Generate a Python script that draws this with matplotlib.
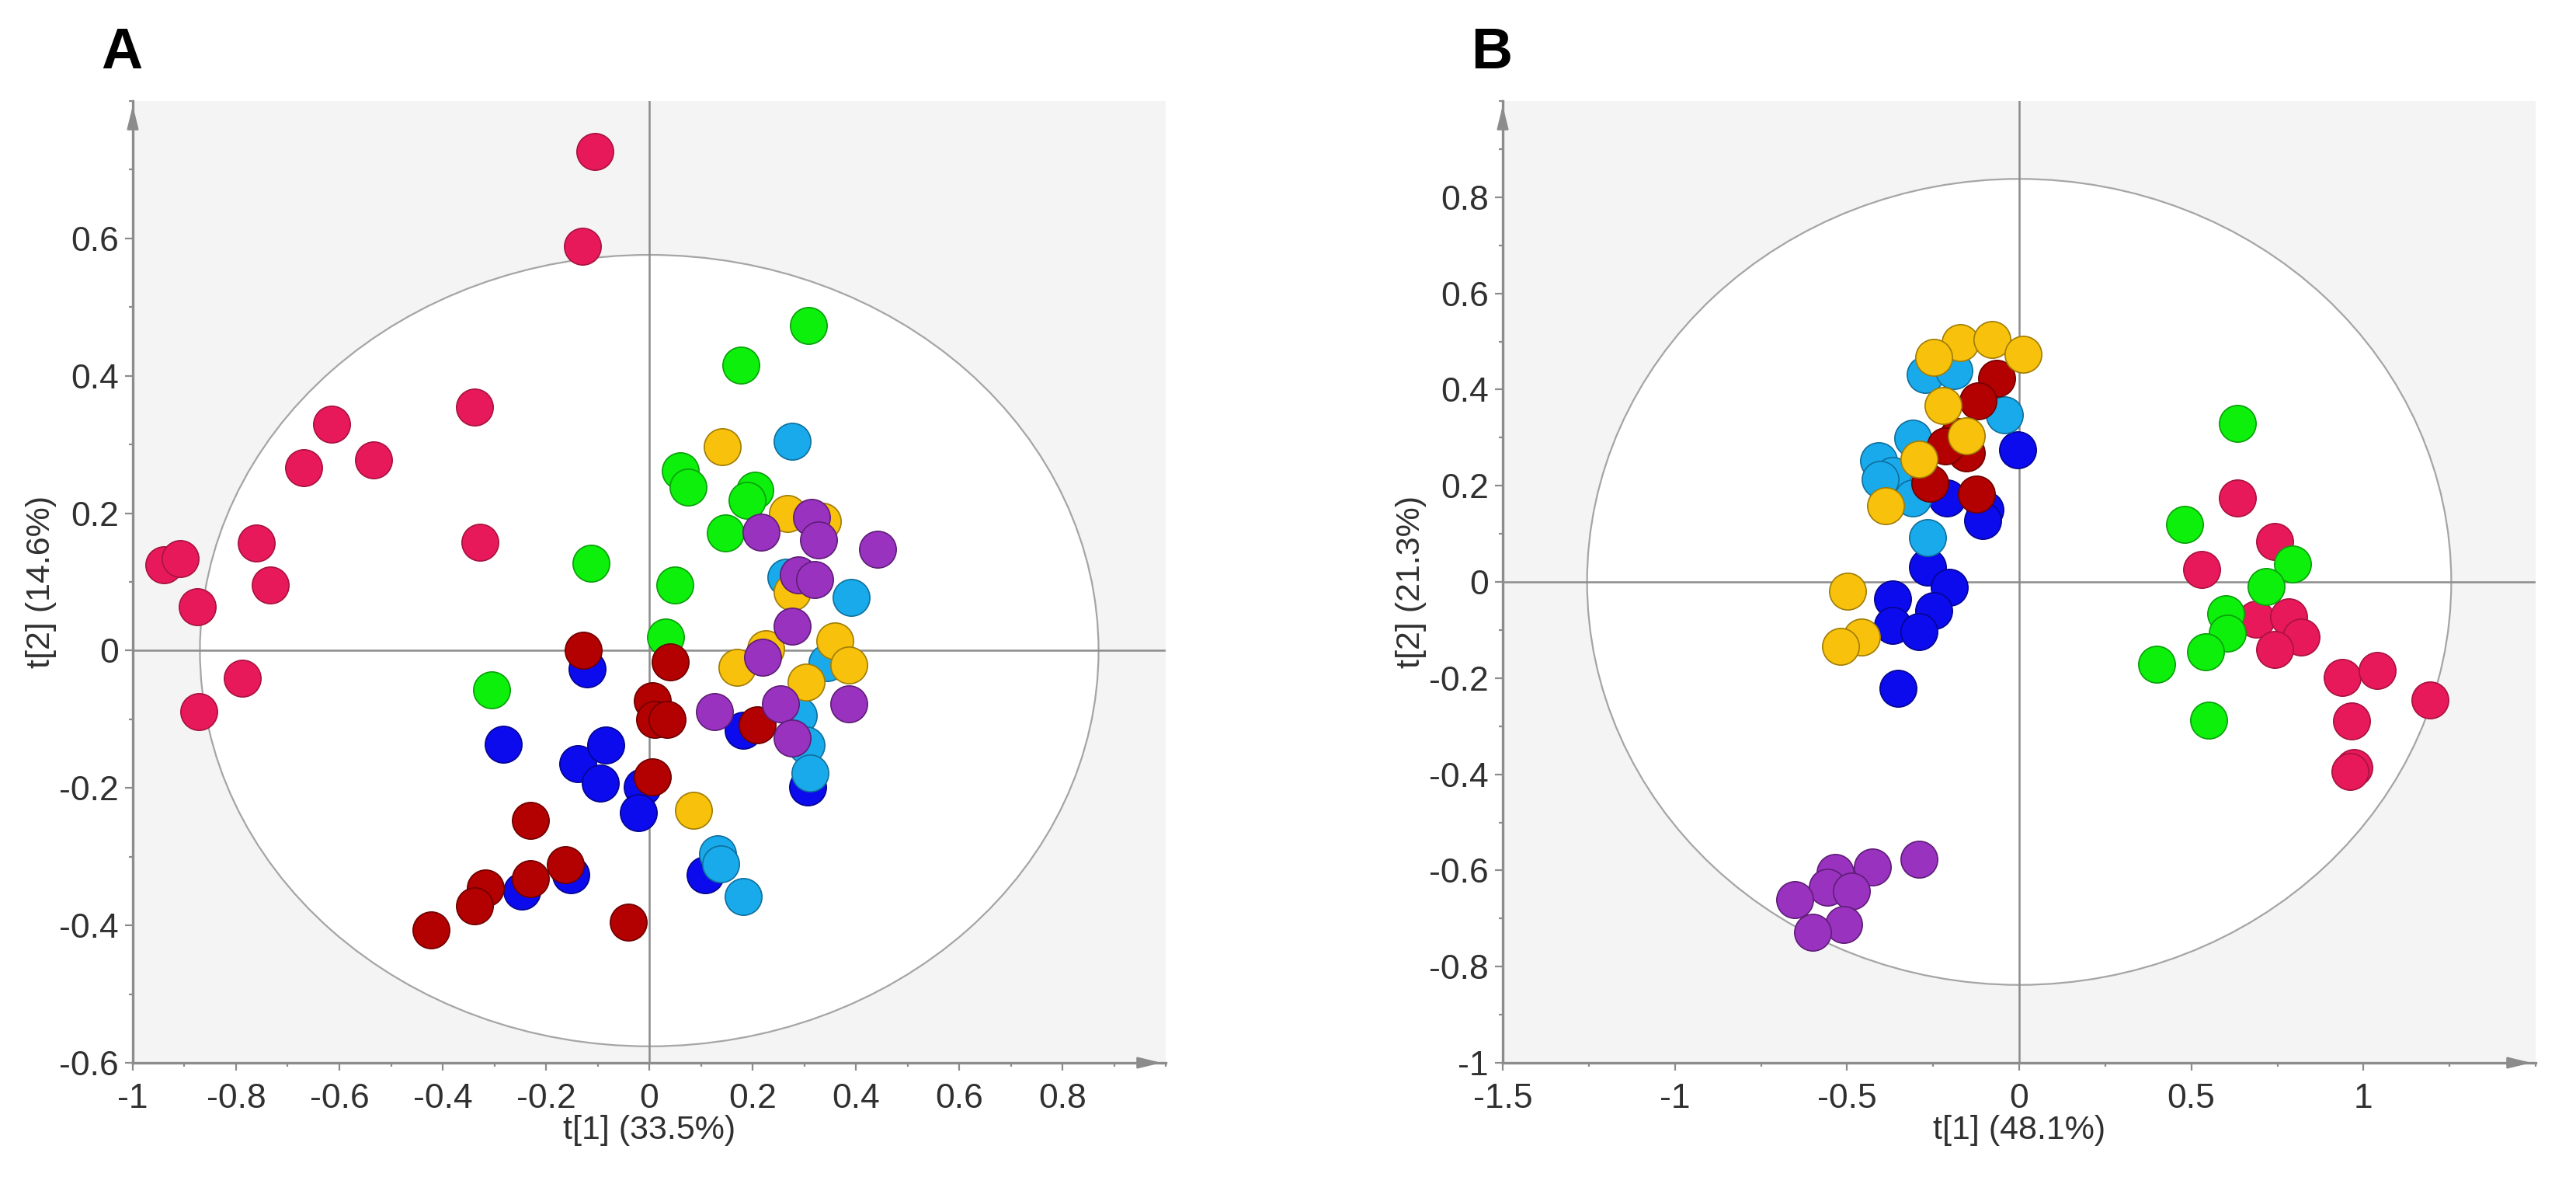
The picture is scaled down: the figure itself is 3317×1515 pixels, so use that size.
import matplotlib
matplotlib.use("Agg")
import matplotlib.pyplot as plt
from matplotlib.patches import Ellipse
from matplotlib.ticker import MultipleLocator, FuncFormatter

plt.rcParams['font.family'] = ['Liberation Sans', 'DejaVu Sans']

# panel A scores (t[1], t[2]) per group
a_pink_x = [-0.105, -0.13, -0.338, -0.615, -0.534, -0.669, -0.328, -0.761, -0.734, -0.94, -0.908, -0.875, -0.788, -0.872]
a_pink_y = [0.727, 0.589, 0.354, 0.33, 0.277, 0.266, 0.158, 0.156, 0.096, 0.125, 0.134, 0.064, -0.04, -0.089]
a_green_x = [0.309, 0.177, 0.06, 0.075, 0.204, 0.189, 0.147, -0.113, 0.049, 0.032, -0.306]
a_green_y = [0.473, 0.415, 0.262, 0.238, 0.234, 0.219, 0.171, 0.127, 0.096, 0.02, -0.057]
a_gold_x = [0.141, 0.268, 0.336, 0.277, 0.225, 0.36, 0.387, 0.17, 0.304, 0.086]
a_gold_y = [0.297, 0.199, 0.188, 0.085, 0.003, 0.014, -0.021, -0.024, -0.046, -0.233]
a_lblue_x = [0.276, 0.265, 0.391, 0.344, 0.288, 0.304, 0.312, 0.132, 0.138, 0.182]
a_lblue_y = [0.305, 0.107, 0.077, -0.018, -0.095, -0.138, -0.178, -0.296, -0.31, -0.358]
a_blue_x = [-0.12, -0.282, -0.138, -0.084, -0.095, -0.013, -0.021, 0.182, 0.307, 0.109, -0.247, -0.152]
a_blue_y = [-0.027, -0.136, -0.165, -0.138, -0.193, -0.198, -0.236, -0.116, -0.198, -0.326, -0.35, -0.326]
a_dred_x = [-0.128, 0.04, 0.006, 0.011, 0.035, 0.006, -0.23, 0.209, -0.163, -0.23, -0.318, -0.338, -0.422, -0.04]
a_dred_y = [0.0, -0.016, -0.073, -0.1, -0.1, -0.184, -0.247, -0.108, -0.312, -0.332, -0.345, -0.372, -0.407, -0.395]
a_purple_x = [0.217, 0.315, 0.328, 0.442, 0.288, 0.32, 0.277, 0.22, 0.127, 0.254, 0.387, 0.276]
a_purple_y = [0.172, 0.194, 0.161, 0.147, 0.11, 0.103, 0.036, -0.01, -0.089, -0.078, -0.078, -0.127]

# panel B scores
b_pink_x = [0.634, 0.743, 0.529, 0.689, 0.783, 0.819, 0.743, 0.938, 1.04, 1.194, 0.966, 0.973, 0.962]
b_pink_y = [0.174, 0.084, 0.026, -0.078, -0.072, -0.114, -0.14, -0.199, -0.184, -0.246, -0.289, -0.386, -0.394]
b_green_x = [0.634, 0.48, 0.795, 0.717, 0.6, 0.605, 0.541, 0.399, 0.551]
b_green_y = [0.33, 0.12, 0.037, -0.009, -0.067, -0.106, -0.145, -0.171, -0.288]
b_gold_x = [-0.171, -0.078, 0.012, -0.249, -0.221, -0.154, -0.292, -0.387, -0.499, -0.458, -0.518]
b_gold_y = [0.498, 0.504, 0.473, 0.467, 0.366, 0.303, 0.255, 0.159, -0.02, -0.114, -0.134]
b_lblue_x = [-0.273, -0.19, -0.043, -0.309, -0.408, -0.368, -0.309, -0.404, -0.266]
b_lblue_y = [0.431, 0.439, 0.348, 0.299, 0.252, 0.221, 0.174, 0.213, 0.092]
b_blue_x = [-0.005, -0.209, -0.1, -0.107, -0.266, -0.202, -0.368, -0.249, -0.368, -0.29, -0.351]
b_blue_y = [0.275, 0.174, 0.151, 0.128, 0.031, -0.012, -0.036, -0.059, -0.09, -0.103, -0.222]
b_dred_x = [-0.066, -0.119, -0.178, -0.154, -0.214, -0.123, -0.26]
b_dred_y = [0.423, 0.376, 0.302, 0.268, 0.283, 0.182, 0.205]
b_purple_x = [-0.292, -0.427, -0.534, -0.558, -0.487, -0.653, -0.51, -0.601]
b_purple_y = [-0.577, -0.593, -0.604, -0.635, -0.643, -0.661, -0.713, -0.728]

colors = {
    'pink': ('#e8195a', '#a8123f'),
    'green': ('#0cf00c', '#0a9e0a'),
    'blue': ('#0b0bee', '#05058f'),
    'lblue': ('#19aaec', '#0f6f9c'),
    'dred': ('#b30000', '#6e0000'),
    'gold': ('#f7c10c', '#a07c05'),
    'purple': ('#9a32c0', '#5e1d76'),
}

panels = [
    dict(letter='A', left=171, xlim=(-1, 1.0), ylim=(-0.6, 0.8), xmaj=0.2, xmin=0.1,
         ell=(0.87, 0.576), xlabel='t[1] (33.5%)', ylabel='t[2] (14.6%)',
         groups=[('pink', a_pink_x, a_pink_y), ('green', a_green_x, a_green_y),
                 ('blue', a_blue_x, a_blue_y), ('lblue', a_lblue_x, a_lblue_y),
                 ('dred', a_dred_x, a_dred_y), ('gold', a_gold_x, a_gold_y),
                 ('purple', a_purple_x, a_purple_y)]),
    dict(letter='B', left=1935, xlim=(-1.5, 1.5), ylim=(-1.0, 1.0), xmaj=0.5, xmin=0.25,
         ell=(1.255, 0.838), xlabel='t[1] (48.1%)', ylabel='t[2] (21.3%)',
         groups=[('pink', b_pink_x, b_pink_y), ('green', b_green_x, b_green_y),
                 ('blue', b_blue_x, b_blue_y), ('lblue', b_lblue_x, b_lblue_y),
                 ('dred', b_dred_x, b_dred_y), ('gold', b_gold_x, b_gold_y),
                 ('purple', b_purple_x, b_purple_y)]),
]

W, H = 3317, 1515
fig = plt.figure(figsize=(W / 200, H / 200), dpi=200)

fmt = FuncFormatter(lambda v, p: '%g' % round(v, 2) if abs(v) > 1e-9 else '0')
axis_col = '#8c8c8c'

for p in panels:
    ax = fig.add_axes([p['left'] / W, (H - 1368) / H, 1330 / W, 1238 / H])
    ax.set_facecolor('#f4f4f4')
    ax.set_xlim(*p['xlim'])
    ax.set_ylim(*p['ylim'])
    ax.add_patch(Ellipse((0, 0), 2 * p['ell'][0], 2 * p['ell'][1], facecolor='white',
                         edgecolor='#a5a5a5', lw=0.8, zorder=1))
    ax.axhline(0, color=axis_col, lw=0.9, zorder=1.5)
    ax.axvline(0, color=axis_col, lw=0.9, zorder=1.5)

    for key, xs, ys in p['groups']:
        fc, ec = colors[key]
        ax.scatter(xs, ys, s=290, c=fc, edgecolors=ec, linewidths=0.6, zorder=3)

    for side in ['top', 'right']:
        ax.spines[side].set_visible(False)
    for side in ['left', 'bottom']:
        ax.spines[side].set_color(axis_col)
        ax.spines[side].set_linewidth(1.2)

    ax.xaxis.set_major_locator(MultipleLocator(p['xmaj']))
    ax.xaxis.set_minor_locator(MultipleLocator(p['xmin']))
    ax.yaxis.set_major_locator(MultipleLocator(0.2))
    ax.yaxis.set_minor_locator(MultipleLocator(0.1))
    ax.xaxis.set_major_formatter(fmt)
    ax.yaxis.set_major_formatter(fmt)
    ax.set_xticks([t for t in ax.get_xticks() if p['xlim'][0] - 1e-9 <= t < p['xlim'][1] - 1e-9])
    ax.set_yticks([t for t in ax.get_yticks() if p['ylim'][0] - 1e-9 <= t < p['ylim'][1] - 1e-9])
    ax.tick_params(which='both', direction='out', color=axis_col, width=0.8,
                   labelsize=16, labelcolor='#303030')
    ax.tick_params(which='major', length=3.5)
    ax.tick_params(which='minor', length=1.8)
    ax.tick_params(axis='x', which='major', pad=6)
    ax.tick_params(axis='y', which='major', pad=3)

    ax.set_xlabel(p['xlabel'], fontsize=15.5, color='#303030', labelpad=0)
    ax.set_ylabel(p['ylabel'], fontsize=15.5, color='#303030', labelpad=1)

    ax.annotate('', xy=(1.0, 0), xycoords='axes fraction', xytext=(0.97, 0),
                arrowprops=dict(arrowstyle='-|>,head_length=0.9,head_width=0.22',
                                color=axis_col, lw=1.0))
    ax.annotate('', xy=(0, 1.0), xycoords='axes fraction', xytext=(0, 0.97),
                arrowprops=dict(arrowstyle='-|>,head_length=0.9,head_width=0.22',
                                color=axis_col, lw=1.0))

    fig.text((p['left'] - 14) / W, 1 - 68 / H, p['letter'], fontsize=26.5, fontweight='bold',
             ha='center', va='center', color='black')

fig.savefig('out.png', dpi=200, facecolor='white')
